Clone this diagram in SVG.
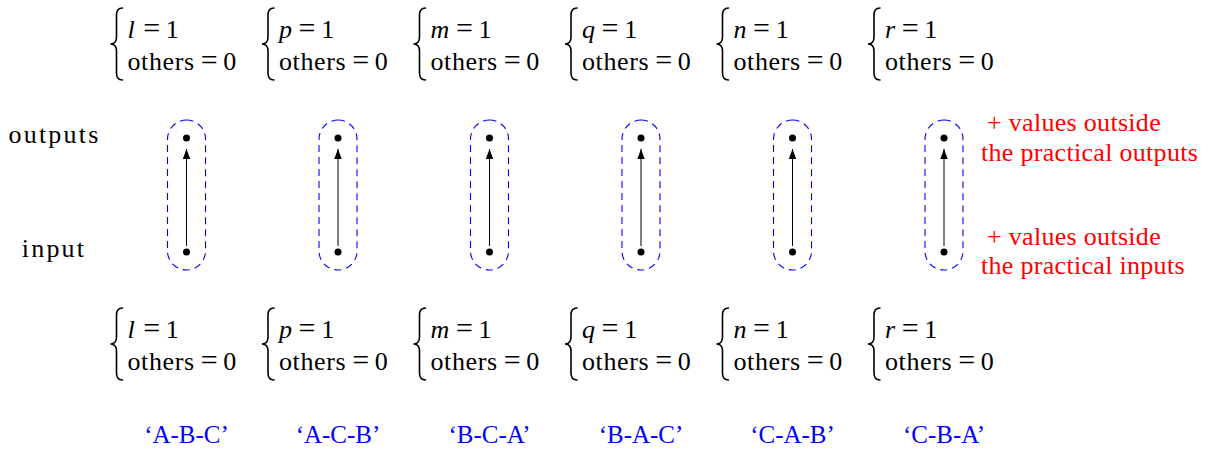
<svg xmlns="http://www.w3.org/2000/svg" xmlns:xlink="http://www.w3.org/1999/xlink" width="1211" height="457" viewBox="0 0 1211 457">
<style>
  text { font-family: "Liberation Serif", "Times New Roman", serif; font-size: 26px; fill: #000; }
  .t { letter-spacing: 0.6px; }
  .w { letter-spacing: 2.2px; }
  .v { font-style: italic; }
  .eq { font-size: 30px; }
  .red { fill: #ff0000; letter-spacing: 0.3px; }
  .blue { fill: #0000ff; text-anchor: middle; font-size: 25px; }
  .mid { text-anchor: middle; }
  .brace { fill: none; stroke: #000; stroke-width: 1.6; stroke-linecap: round; }
  .box { fill: none; stroke: #0000ff; stroke-width: 1.1; stroke-dasharray: 7 5; }
  .dot { fill: #000; }
  .arr { stroke: #000; stroke-width: 1; fill: none; marker-end: url(#ah); }
</style>
<defs>
  <path id="brace" d="M12,-36 C7.5,-36 6,-33.5 6,-29 L6,-7 C6,-2.5 4,0 0,0 C4,0 6,2.5 6,7 L6,29 C6,33.5 7.5,36 12,36"/>
  <marker id="ah" markerUnits="userSpaceOnUse" markerWidth="11" markerHeight="12" refX="10" refY="3.75" orient="auto">
    <path d="M0,0 L10,3.75 L0,7.5 Z" fill="#000"/>
  </marker>
</defs>

<!-- row labels -->
<text class="w mid" x="54.5" y="143">outputs</text>
<text class="w mid" x="54" y="257">input</text>

<!-- red notes -->
<text class="red" x="987" y="131">+ values outside</text>
<text class="red" x="981" y="161">the practical outputs</text>
<text class="red" x="987" y="245">+ values outside</text>
<text class="red" x="981" y="274">the practical inputs</text>

<!-- top constraint blocks -->
<g id="top-constraints">
  <g transform="translate(186.5,0)">
    <use xlink:href="#brace" class="brace" x="-76" y="44"/>
    <text class="t" x="-59" y="38"><tspan class="v">l</tspan><tspan class="eq" dx="8">=</tspan><tspan dx="5">1</tspan></text>
    <text class="t" x="-59" y="70">others<tspan class="eq" dx="6">=</tspan><tspan dx="5">0</tspan></text>
  </g>
  <g transform="translate(338,0)">
    <use xlink:href="#brace" class="brace" x="-76" y="44"/>
    <text class="t" x="-59" y="38"><tspan class="v">p</tspan><tspan class="eq" dx="6">=</tspan><tspan dx="5">1</tspan></text>
    <text class="t" x="-59" y="70">others<tspan class="eq" dx="6">=</tspan><tspan dx="5">0</tspan></text>
  </g>
  <g transform="translate(489.5,0)">
    <use xlink:href="#brace" class="brace" x="-76" y="44"/>
    <text class="t" x="-59" y="38"><tspan class="v">m</tspan><tspan class="eq" dx="6">=</tspan><tspan dx="5">1</tspan></text>
    <text class="t" x="-59" y="70">others<tspan class="eq" dx="6">=</tspan><tspan dx="5">0</tspan></text>
  </g>
  <g transform="translate(641,0)">
    <use xlink:href="#brace" class="brace" x="-76" y="44"/>
    <text class="t" x="-59" y="38"><tspan class="v">q</tspan><tspan class="eq" dx="6">=</tspan><tspan dx="5">1</tspan></text>
    <text class="t" x="-59" y="70">others<tspan class="eq" dx="6">=</tspan><tspan dx="5">0</tspan></text>
  </g>
  <g transform="translate(792.5,0)">
    <use xlink:href="#brace" class="brace" x="-76" y="44"/>
    <text class="t" x="-59" y="38"><tspan class="v">n</tspan><tspan class="eq" dx="6">=</tspan><tspan dx="5">1</tspan></text>
    <text class="t" x="-59" y="70">others<tspan class="eq" dx="6">=</tspan><tspan dx="5">0</tspan></text>
  </g>
  <g transform="translate(944,0)">
    <use xlink:href="#brace" class="brace" x="-76" y="44"/>
    <text class="t" x="-59" y="38"><tspan class="v">r</tspan><tspan class="eq" dx="6">=</tspan><tspan dx="5">1</tspan></text>
    <text class="t" x="-59" y="70">others<tspan class="eq" dx="6">=</tspan><tspan dx="5">0</tspan></text>
  </g>
</g>

<!-- bottom constraint blocks -->
<g id="bottom-constraints">
  <g transform="translate(186.5,300)">
    <use xlink:href="#brace" class="brace" x="-76" y="44"/>
    <text class="t" x="-59" y="38"><tspan class="v">l</tspan><tspan class="eq" dx="8">=</tspan><tspan dx="5">1</tspan></text>
    <text class="t" x="-59" y="70">others<tspan class="eq" dx="6">=</tspan><tspan dx="5">0</tspan></text>
  </g>
  <g transform="translate(338,300)">
    <use xlink:href="#brace" class="brace" x="-76" y="44"/>
    <text class="t" x="-59" y="38"><tspan class="v">p</tspan><tspan class="eq" dx="6">=</tspan><tspan dx="5">1</tspan></text>
    <text class="t" x="-59" y="70">others<tspan class="eq" dx="6">=</tspan><tspan dx="5">0</tspan></text>
  </g>
  <g transform="translate(489.5,300)">
    <use xlink:href="#brace" class="brace" x="-76" y="44"/>
    <text class="t" x="-59" y="38"><tspan class="v">m</tspan><tspan class="eq" dx="6">=</tspan><tspan dx="5">1</tspan></text>
    <text class="t" x="-59" y="70">others<tspan class="eq" dx="6">=</tspan><tspan dx="5">0</tspan></text>
  </g>
  <g transform="translate(641,300)">
    <use xlink:href="#brace" class="brace" x="-76" y="44"/>
    <text class="t" x="-59" y="38"><tspan class="v">q</tspan><tspan class="eq" dx="6">=</tspan><tspan dx="5">1</tspan></text>
    <text class="t" x="-59" y="70">others<tspan class="eq" dx="6">=</tspan><tspan dx="5">0</tspan></text>
  </g>
  <g transform="translate(792.5,300)">
    <use xlink:href="#brace" class="brace" x="-76" y="44"/>
    <text class="t" x="-59" y="38"><tspan class="v">n</tspan><tspan class="eq" dx="6">=</tspan><tspan dx="5">1</tspan></text>
    <text class="t" x="-59" y="70">others<tspan class="eq" dx="6">=</tspan><tspan dx="5">0</tspan></text>
  </g>
  <g transform="translate(944,300)">
    <use xlink:href="#brace" class="brace" x="-76" y="44"/>
    <text class="t" x="-59" y="38"><tspan class="v">r</tspan><tspan class="eq" dx="6">=</tspan><tspan dx="5">1</tspan></text>
    <text class="t" x="-59" y="70">others<tspan class="eq" dx="6">=</tspan><tspan dx="5">0</tspan></text>
  </g>
</g>

<!-- dashed groupings -->
<g id="groups">
  <rect class="box" x="167.5" y="120" width="38" height="150" rx="19" ry="19"/>
  <rect class="box" x="319" y="120" width="38" height="150" rx="19" ry="19"/>
  <rect class="box" x="470.5" y="120" width="38" height="150" rx="19" ry="19"/>
  <rect class="box" x="622" y="120" width="38" height="150" rx="19" ry="19"/>
  <rect class="box" x="773.5" y="120" width="38" height="150" rx="19" ry="19"/>
  <rect class="box" x="925" y="120" width="38" height="150" rx="19" ry="19"/>
</g>

<!-- connectors -->
<g id="connectors">
  <line class="arr" x1="186.5" y1="246" x2="186.5" y2="149"/>
  <line class="arr" x1="338" y1="246" x2="338" y2="149"/>
  <line class="arr" x1="489.5" y1="246" x2="489.5" y2="149"/>
  <line class="arr" x1="641" y1="246" x2="641" y2="149"/>
  <line class="arr" x1="792.5" y1="246" x2="792.5" y2="149"/>
  <line class="arr" x1="944" y1="246" x2="944" y2="149"/>
</g>

<!-- nodes -->
<g id="out-1"><circle class="dot" cx="186.5" cy="138" r="3.5"/></g>
<g id="in-1"><circle class="dot" cx="186.5" cy="252" r="3.5"/></g>
<g id="out-2"><circle class="dot" cx="338" cy="138" r="3.5"/></g>
<g id="in-2"><circle class="dot" cx="338" cy="252" r="3.5"/></g>
<g id="out-3"><circle class="dot" cx="489.5" cy="138" r="3.5"/></g>
<g id="in-3"><circle class="dot" cx="489.5" cy="252" r="3.5"/></g>
<g id="out-4"><circle class="dot" cx="641" cy="138" r="3.5"/></g>
<g id="in-4"><circle class="dot" cx="641" cy="252" r="3.5"/></g>
<g id="out-5"><circle class="dot" cx="792.5" cy="138" r="3.5"/></g>
<g id="in-5"><circle class="dot" cx="792.5" cy="252" r="3.5"/></g>
<g id="out-6"><circle class="dot" cx="944" cy="138" r="3.5"/></g>
<g id="in-6"><circle class="dot" cx="944" cy="252" r="3.5"/></g>

<!-- permutation labels -->
<g id="labels">
  <text class="blue" x="186.5" y="443">‘A-B-C’</text>
  <text class="blue" x="338" y="443">‘A-C-B’</text>
  <text class="blue" x="489.5" y="443">‘B-C-A’</text>
  <text class="blue" x="641" y="443">‘B-A-C’</text>
  <text class="blue" x="792.5" y="443">‘C-A-B’</text>
  <text class="blue" x="944" y="443">‘C-B-A’</text>
</g>
</svg>
